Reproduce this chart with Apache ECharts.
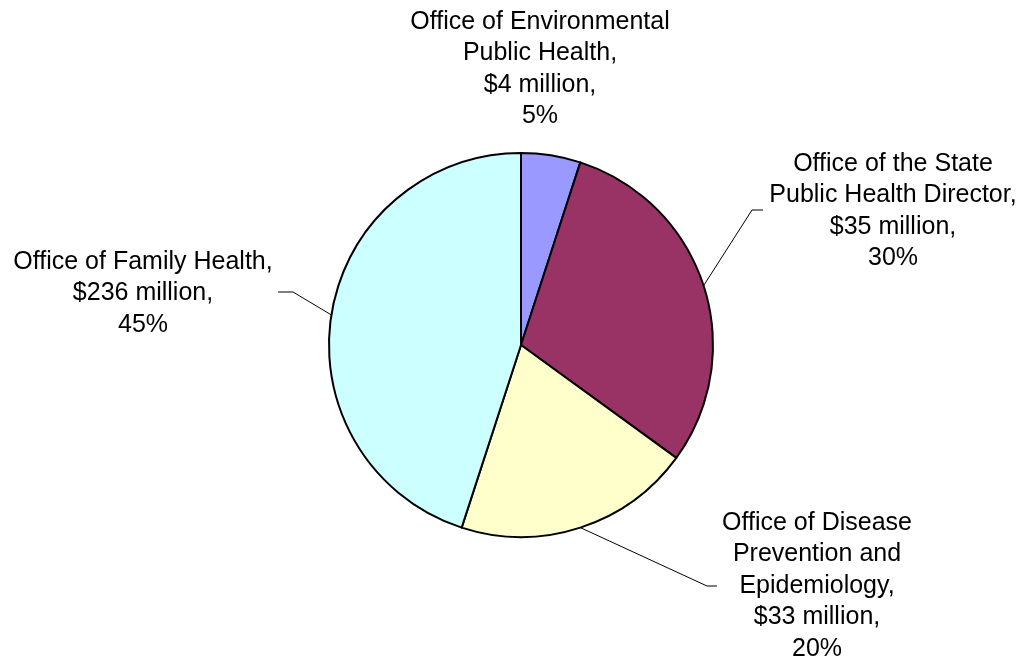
<!DOCTYPE html>
<html>
<head>
<meta charset="utf-8">
<script src="https://cdn.jsdelivr.net/npm/echarts@6/dist/echarts.min.js"></script>
<style>
  html, body { margin: 0; padding: 0; background: #ffffff; }
  #chart { width: 1025px; height: 662px; }
</style>
</head>
<body>
<div id="chart"></div>
<script>
// Public health budget by office (clockwise from 12 o'clock)
const offices = [
  'Office of Environmental\nPublic Health',
  'Office of the State\nPublic Health Director',
  'Office of Disease\nPrevention and\nEpidemiology',
  'Office of Family Health'
];
const dollars = ['$4 million', '$35 million', '$33 million', '$236 million'];
const percents = [5, 30, 20, 45];
const colors = ['#9999FF', '#993366', '#FFFFCC', '#CCFFFF'];

// Label placement: [centre x, top y, elbow x, elbow y, end x] (null = no leader)
const labelSpots = [
  [540, 6, null, null, null],
  [893, 148, 752, 210, 763],
  [817, 507, 707, 586, 717],
  [143, 246, 293, 292, 278]
];

const chart = echarts.init(document.getElementById('chart'), null, { renderer: 'canvas' });

chart.setOption({
  animation: false,
  backgroundColor: '#ffffff',
  series: [{
    type: 'pie',
    center: [521, 345],
    radius: 192,
    startAngle: 90,
    clockwise: true,
    silent: true,
    data: percents.map((v, i) => ({
      value: v,
      name: offices[i],
      itemStyle: { color: colors[i] }
    })),
    itemStyle: { borderColor: '#000000', borderWidth: 2 },
    label: {
      show: true,
      position: 'outside',
      formatter: p => p.name + ',\n' + dollars[p.dataIndex] + ',\n' + p.value + '%',
      color: '#000000',
      fontFamily: '"Liberation Sans", Arial, sans-serif',
      fontSize: 25,
      lineHeight: 31.5,
      align: 'center'
    },
    labelLine: {
      show: true,
      lineStyle: { color: '#000000', width: 1 }
    },
    labelLayout: function (params) {
      const s = labelSpots[params.dataIndex];
      const out = { x: s[0], y: s[1], align: 'center', verticalAlign: 'top' };
      const pts = params.labelLinePoints;
      if (s[2] === null) {
        out.labelLinePoints = pts ? [pts[0], pts[0], pts[0]] : undefined;
      } else if (pts) {
        out.labelLinePoints = [pts[0], [s[2], s[3]], [s[4], s[3]]];
      }
      return out;
    }
  }]
});
</script>
</body>
</html>
